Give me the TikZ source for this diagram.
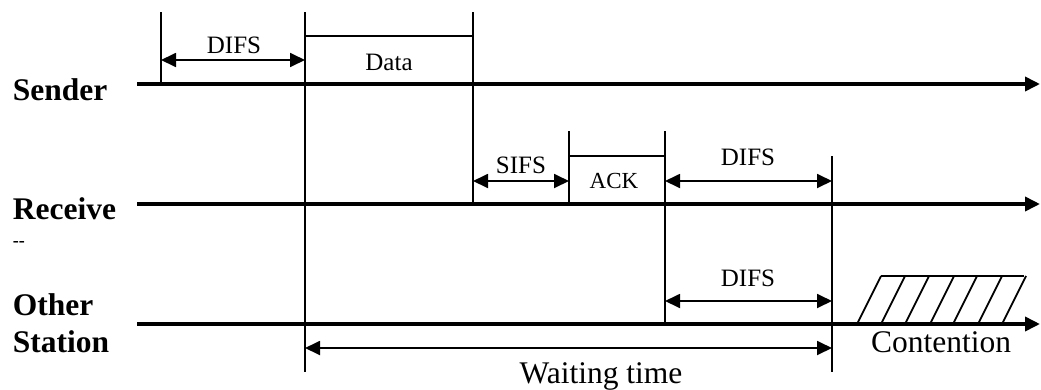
\documentclass[tikz,border=0pt]{standalone}
\usepackage{fontspec}
\setmainfont{Liberation Serif}
\usetikzlibrary{arrows.meta}
\tikzset{
  tl_axis/.style = {->, line width=3.6pt},
  tl_mark/.style = {line width=1.8pt},
  tl_span/.style = {<->, line width=1.8pt},
  tl_lbl/.style = {anchor=base, inner sep=0pt,
    font=\fontsize{25}{30}\selectfont},
  tl_big/.style = {anchor=base, inner sep=0pt,
    font=\fontsize{31.5}{37}\selectfont},
  tl_name/.style = {anchor=base west, inner sep=0pt, align=left,
    font=\fontsize{31.5}{37}\selectfont\bfseries}
}

\begin{document}
\begin{tikzpicture}[x=1pt,y=-1pt,>={Triangle[length=15pt,width=14pt]}]
\useasboundingbox (0,0) rectangle (1041,389);
% station names
\node [tl_name] (sender) at (12.7,100) {Sender};
\node [tl_name] (receiver) at (12.7,219) {Receive};
\node [tl_name, font=\fontsize{18}{20}\selectfont\bfseries] (rcv_cut) at (12.7,246) {-{}-};
\node [tl_name] (other) at (12.7,352) {Other\\Station};
% time axes
\coordinate (snd_a) at (137,84);  \coordinate (snd_b) at (1040,84);
\coordinate (rcv_a) at (137,204); \coordinate (rcv_b) at (1040,204);
\coordinate (oth_a) at (137,324); \coordinate (oth_b) at (1040,324);
\draw [tl_axis] (snd_a) -- (snd_b);
\draw [tl_axis] (rcv_a) -- (rcv_b);
\draw [tl_axis] (oth_a) -- (oth_b);
% time marks
\coordinate (t0_top) at (161,12);  \coordinate (t0_bot) at (161,84);
\coordinate (t1_top) at (305,12);  \coordinate (t1_bot) at (305,372);
\coordinate (t2_top) at (473,12);  \coordinate (t2_bot) at (473,204);
\coordinate (t3_top) at (569,131); \coordinate (t3_bot) at (569,204);
\coordinate (t4_top) at (665,131); \coordinate (t4_bot) at (665,324);
\coordinate (t5_top) at (832,156); \coordinate (t5_bot) at (832,372);
\draw [tl_mark] (t0_top) -- (t0_bot);
\draw [tl_mark] (t1_top) -- (t1_bot);
\draw [tl_mark] (t2_top) -- (t2_bot);
\draw [tl_mark] (t3_top) -- (t3_bot);
\draw [tl_mark] (t4_top) -- (t4_bot);
\draw [tl_mark] (t5_top) -- (t5_bot);
% frames
\coordinate (data_l) at (305,36);  \coordinate (data_r) at (473,36);
\coordinate (ack_l) at (569,156);  \coordinate (ack_r) at (665,156);
\draw [tl_mark] (data_l) -- (data_r);
\draw [tl_mark] (ack_l) -- (ack_r);
\node [tl_lbl] (data) at (389,70) {Data};
\node [tl_lbl, font=\fontsize{23}{28}\selectfont] (ack) at (614,188) {ACK};
% intervals
\coordinate (difs_sa) at (161,60);  \coordinate (difs_sb) at (305,60);
\coordinate (sifs_a) at (473,181);  \coordinate (sifs_b) at (569,181);
\coordinate (difs_ra) at (665,181); \coordinate (difs_rb) at (832,181);
\coordinate (difs_oa) at (665,301); \coordinate (difs_ob) at (832,301);
\coordinate (wait_a) at (305,348);  \coordinate (wait_b) at (832,348);
\draw [tl_span] (difs_sa) -- (difs_sb);
\draw [tl_span] (sifs_a) -- (sifs_b);
\draw [tl_span] (difs_ra) -- (difs_rb);
\draw [tl_span] (difs_oa) -- (difs_ob);
\draw [tl_span] (wait_a) -- (wait_b);
\node [tl_lbl] (difs_s) at (234,53) {DIFS};
\node [tl_lbl] (sifs) at (521,173) {SIFS};
\node [tl_lbl] (difs_r) at (748,165) {DIFS};
\node [tl_lbl] (difs_o) at (748,286) {DIFS};
\node [tl_big] (wait) at (601,383) {Waiting time};
% contention window
\draw [tl_mark] (881,276) -- (1024,276);
\foreach \x in {857,881,905,930,953,978,1002}
  \draw [tl_mark] (\x,324) -- ++(24,-48);
\node [tl_big] (cont) at (941,352) {Contention};
\end{tikzpicture}
\end{document}
